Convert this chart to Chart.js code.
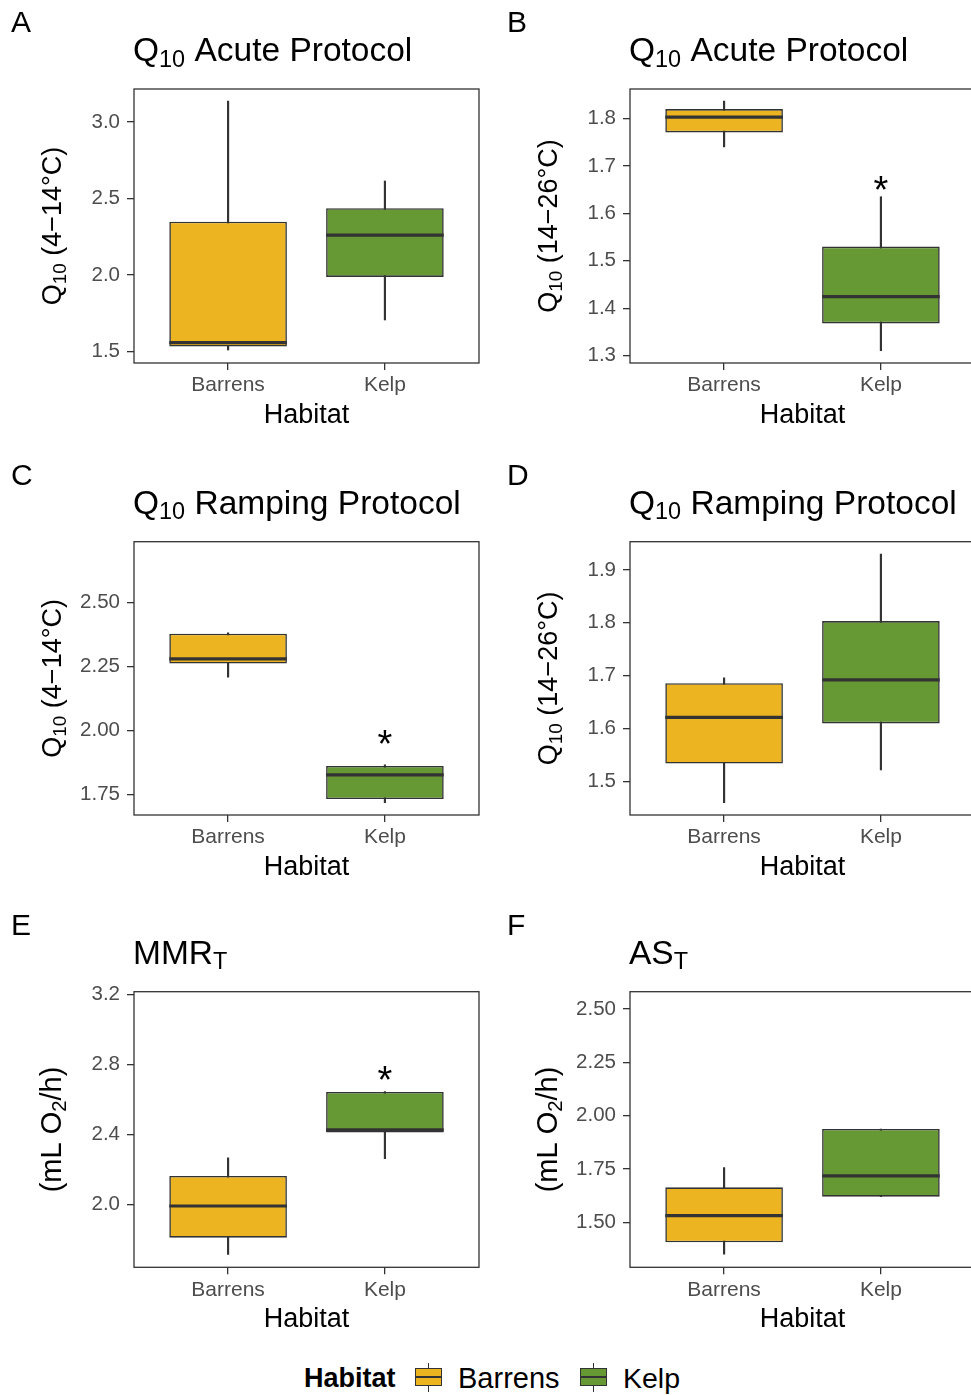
<!DOCTYPE html>
<html>
<head>
<meta charset="utf-8">
<script src="https://cdn.jsdelivr.net/npm/chart.js@4.4.1/dist/chart.umd.min.js"></script>
<style>
html,body{margin:0;padding:0;width:971px;height:1395px;overflow:hidden;background:#ffffff;}
.panel{position:absolute;}
.panel canvas{display:block;}
.lg{position:absolute;font-family:'Liberation Sans',Arial,sans-serif;line-height:1;white-space:nowrap;color:#000;}
.key{position:absolute;}
.key .w{position:absolute;left:13px;width:1.4px;top:0;height:29px;background:#333;}
.key .b{position:absolute;left:0;top:5px;width:27px;height:18px;box-sizing:border-box;border:1.5px solid #333;}
.key .m{position:absolute;left:0;width:27px;top:12.8px;height:2.6px;background:#333;}
</style>
</head>
<body>
<div class="panel" style="left:0;top:0;"><canvas id="cA" width="490" height="450"></canvas></div>
<div class="panel" style="left:490px;top:0;"><canvas id="cB" width="500" height="450"></canvas></div>
<div class="panel" style="left:0;top:450px;"><canvas id="cC" width="490" height="450"></canvas></div>
<div class="panel" style="left:490px;top:450px;"><canvas id="cD" width="500" height="450"></canvas></div>
<div class="panel" style="left:0;top:900px;"><canvas id="cE" width="490" height="450"></canvas></div>
<div class="panel" style="left:490px;top:900px;"><canvas id="cF" width="500" height="450"></canvas></div>

<div class="lg" style="left:304px;top:1365px;font-size:27px;font-weight:bold;">Habitat</div>
<div class="key" style="left:415px;top:1363px;width:27px;height:29px;">
  <div class="w"></div><div class="b" style="background:#EDB422"></div><div class="m"></div>
</div>
<div class="lg" style="left:458px;top:1363.5px;font-size:29px;">Barrens</div>
<div class="key" style="left:580px;top:1363px;width:27px;height:29px;">
  <div class="w"></div><div class="b" style="background:#669933"></div><div class="m"></div>
</div>
<div class="lg" style="left:623px;top:1363.5px;font-size:28.5px;">Kelp</div>

<script>
// ---------------- DATA ----------------
const categories = ['Barrens', 'Kelp'];
const fillColors = ['#EDB422', '#669933'];

// Panel A: Q10 acute protocol, 4-14 C
const aWhiskerLow  = [1.511, 1.707];
const aQ1          = [1.533, 1.988];
const aMedian      = [1.559, 2.262];
const aQ3          = [2.349, 2.437];
const aWhiskerHigh = [3.137, 2.615];
const aSignif      = [null, null];
const aTicks       = [1.5, 2.0, 2.5, 3.0];
const aTickLabels  = ['1.5', '2.0', '2.5', '3.0'];
const aLimits      = [1.426, 3.216];

// Panel B: Q10 acute protocol, 14-26 C
const bWhiskerLow  = [1.740, 1.3105];
const bQ1          = [1.7705, 1.368];
const bMedian      = [1.8027, 1.4245];
const bQ3          = [1.8196, 1.530];
const bWhiskerHigh = [1.8365, 1.635];
const bSignif      = [null, 1.6665];
const bTicks       = [1.3, 1.4, 1.5, 1.6, 1.7, 1.8];
const bTickLabels  = ['1.3', '1.4', '1.5', '1.6', '1.7', '1.8'];
const bLimits      = [1.2846, 1.862];

// Panel C: Q10 ramping protocol, 4-14 C
const cWhiskerLow  = [2.2088, 1.717];
const cQ1          = [2.262, 1.7314];
const cMedian      = [2.2801, 1.826];
const cQ3          = [2.3787, 1.861];
const cWhiskerHigh = [2.382, 1.865];
const cSignif      = [null, 1.980];
const cTicks       = [1.75, 2.00, 2.25, 2.50];
const cTickLabels  = ['1.75', '2.00', '2.25', '2.50'];
const cLimits      = [1.669, 2.7387];

// Panel D: Q10 ramping protocol, 14-26 C
const dWhiskerLow  = [1.4595, 1.5214];
const dQ1          = [1.5333, 1.6095];
const dMedian      = [1.6208, 1.6919];
const dQ3          = [1.6857, 1.8032];
const dWhiskerHigh = [1.696, 1.9303];
const dSignif      = [null, null];
const dTicks       = [1.5, 1.6, 1.7, 1.8, 1.9];
const dTickLabels  = ['1.5', '1.6', '1.7', '1.8', '1.9'];
const dLimits      = [1.436, 1.9536];

// Panel E: MMR_T (mL O2/h)
const eWhiskerLow  = [1.717, 2.262];
const eQ1          = [1.812, 2.412];
const eMedian      = [1.9926, 2.427];
const eQ3          = [2.164, 2.643];
const eWhiskerHigh = [2.268, 2.6446];
const eSignif      = [null, 2.7587];
const eTicks       = [2.0, 2.4, 2.8, 3.2];
const eTickLabels  = ['2.0', '2.4', '2.8', '3.2'];
const eLimits      = [1.643, 3.215];

// Panel F: AS_T (mL O2/h)
const fWhiskerLow  = [1.350, 1.62];
const fQ1          = [1.406, 1.62];
const fMedian      = [1.531, 1.7173];
const fQ3          = [1.664, 1.9375];
const fWhiskerHigh = [1.756, 1.9375];
const fSignif      = [null, null];
const fTicks       = [1.50, 1.75, 2.00, 2.25, 2.50];
const fTickLabels  = ['1.50', '1.75', '2.00', '2.25', '2.50'];
const fLimits      = [1.289, 2.581];

// Text
const titleAcute   = [{t: 'Q'}, {t: '10', sub: true}, {t: ' Acute Protocol'}];
const titleRamping = [{t: 'Q'}, {t: '10', sub: true}, {t: ' Ramping Protocol'}];
const titleMMR     = [{t: 'MMR'}, {t: 'T', sub: true}];
const titleAS      = [{t: 'AS'}, {t: 'T', sub: true}];
const yTitleLow    = [{t: 'Q'}, {t: '10', sub: true}, {t: ' (4\u221214\u00B0C)'}];
const yTitleHigh   = [{t: 'Q'}, {t: '10', sub: true}, {t: ' (14\u221226\u00B0C)'}];
const yTitleRate   = [{t: '(mL O'}, {t: '2', sub: true}, {t: '/h)'}];
const xTitle = 'Habitat';

// ---------------- RENDERING ----------------
const FONT = "'Liberation Sans', Arial, Helvetica, sans-serif";
Chart.defaults.font.family = FONT;

function drawRich(ctx, segs, x, y, size, align) {
  let total = 0;
  const parts = segs.map(s => {
    const fs = s.sub ? size * 0.7 : size;
    ctx.font = fs + 'px ' + FONT;
    const w = ctx.measureText(s.t).width;
    total += w;
    return {t: s.t, fs: fs, w: w, dy: s.sub ? size * 0.17 : 0};
  });
  let cx = align === 'center' ? x - total / 2 : x;
  ctx.textAlign = 'left';
  ctx.textBaseline = 'alphabetic';
  for (const p of parts) {
    ctx.font = p.fs + 'px ' + FONT;
    ctx.fillText(p.t, cx, y + p.dy);
    cx += p.w;
  }
}

function makePlugin(p) {
  return {
    id: 'boxExtras',
    afterDatasetsDraw(chart) {
      const ctx = chart.ctx;
      const ca = chart.chartArea;
      const ys = chart.scales.y;
      const xs = chart.scales.x;
      ctx.save();
      // medians, drawn across each box element
      const meta = chart.getDatasetMeta(1);
      ctx.strokeStyle = '#333333';
      ctx.lineWidth = 3.2;
      meta.data.forEach((bar, i) => {
        const y = ys.getPixelForValue(p.median[i]);
        ctx.beginPath();
        ctx.moveTo(bar.x - bar.width / 2, y);
        ctx.lineTo(bar.x + bar.width / 2, y);
        ctx.stroke();
      });
      // significance marks
      ctx.fillStyle = '#000';
      ctx.font = '38px ' + FONT;
      ctx.textAlign = 'center';
      ctx.textBaseline = 'alphabetic';
      p.signif.forEach((v, i) => {
        if (v === null) return;
        const x = xs.getPixelForValue(i + 1);
        const y = ys.getPixelForValue(v);
        ctx.fillText('*', x, y + 38 * 0.56);
      });
      // panel border
      ctx.strokeStyle = '#333333';
      ctx.lineWidth = 1.3;
      ctx.strokeRect(ca.left, ca.top, ca.right - ca.left, ca.bottom - ca.top);
      ctx.restore();
    },
    afterDraw(chart) {
      const ctx = chart.ctx;
      const ca = chart.chartArea;
      ctx.save();
      ctx.fillStyle = '#000';
      // panel letter
      ctx.font = '30px ' + FONT;
      ctx.textAlign = 'left';
      ctx.textBaseline = 'alphabetic';
      ctx.fillText(p.letter, p.letterX, ca.top - 57);
      // title
      drawRich(ctx, p.title, ca.left - 1, ca.top - 28, 33.5, 'left');
      // x title
      ctx.font = '27px ' + FONT;
      ctx.textAlign = 'center';
      ctx.fillText(xTitle, (ca.left + ca.right) / 2, ca.bottom + 59.5);
      // y title (rotated)
      ctx.translate(ca.left - 73, (ca.top + ca.bottom) / 2);
      ctx.rotate(-Math.PI / 2);
      drawRich(ctx, p.yTitle, 0, 0, p.yTitleSize, 'center');
      ctx.restore();
    }
  };
}

function makeChart(p) {
  const boxData = categories.map((c, i) => ({x: i + 1, y: [p.q1[i], p.q3[i]]}));
  const whiskerData = categories.map((c, i) => ({x: i + 1, y: [p.low[i], p.high[i]]}));
  return new Chart(document.getElementById(p.canvas), {
    type: 'bar',
    data: {
      datasets: [
        {
          label: 'whisker', data: whiskerData,
          backgroundColor: '#333333', borderWidth: 0,
          barThickness: 1.5, grouped: false, order: 2
        },
        {
          label: 'box', data: boxData,
          backgroundColor: fillColors, borderColor: '#333333', borderWidth: 1.6,
          borderSkipped: false, grouped: false,
          categoryPercentage: 1, barPercentage: 0.75, order: 1
        }
      ]
    },
    options: {
      responsive: false,
      animation: false,
      events: [],
      layout: {padding: {top: p.padTop, right: p.padRight, left: 0, bottom: 0}},
      plugins: {legend: {display: false}, tooltip: {enabled: false}, title: {display: false}},
      scales: {
        x: {
          type: 'linear', min: 0.4, max: 2.6, offset: false,
          afterBuildTicks: a => { a.ticks = categories.map((c, i) => ({value: i + 1})); },
          afterFit: a => { a.height = p.xHeight; },
          ticks: {
            callback: v => categories[Math.round(v) - 1],
            font: {size: 21}, color: '#4D4D4D', padding: 3,
            autoSkip: false, maxRotation: 0, minRotation: 0
          },
          grid: {display: true, offset: false, drawOnChartArea: false, drawTicks: true, tickLength: 7, color: '#333333', lineWidth: 1.3},
          border: {display: false}
        },
        y: {
          type: 'linear', min: p.limits[0], max: p.limits[1],
          afterBuildTicks: a => { a.ticks = p.ticks.map(v => ({value: v})); },
          afterFit: a => { a.width = p.yWidth; },
          ticks: {
            callback: (v, i) => p.tickLabels[i],
            font: {size: 20.5}, color: '#4D4D4D', padding: 7, autoSkip: false
          },
          grid: {display: true, offset: false, drawOnChartArea: false, drawTicks: true, tickLength: 7, color: '#333333', lineWidth: 1.3},
          border: {display: false}
        }
      }
    },
    plugins: [makePlugin(p)]
  });
}

const leftCol = {yWidth: 134, padRight: 11, letterX: 11};
const rightCol = {yWidth: 140, padRight: 15, letterX: 17};
const row1 = {padTop: 89, xHeight: 87};
const row2 = {padTop: 91.7, xHeight: 85};
const row3 = {padTop: 91.7, xHeight: 82.7};

const panels = [
  Object.assign({canvas: 'cA', letter: 'A', title: titleAcute, yTitle: yTitleLow, yTitleSize: 27,
    low: aWhiskerLow, q1: aQ1, median: aMedian, q3: aQ3, high: aWhiskerHigh, signif: aSignif,
    ticks: aTicks, tickLabels: aTickLabels, limits: aLimits}, leftCol, row1),
  Object.assign({canvas: 'cB', letter: 'B', title: titleAcute, yTitle: yTitleHigh, yTitleSize: 27,
    low: bWhiskerLow, q1: bQ1, median: bMedian, q3: bQ3, high: bWhiskerHigh, signif: bSignif,
    ticks: bTicks, tickLabels: bTickLabels, limits: bLimits}, rightCol, row1),
  Object.assign({canvas: 'cC', letter: 'C', title: titleRamping, yTitle: yTitleLow, yTitleSize: 27,
    low: cWhiskerLow, q1: cQ1, median: cMedian, q3: cQ3, high: cWhiskerHigh, signif: cSignif,
    ticks: cTicks, tickLabels: cTickLabels, limits: cLimits}, leftCol, row2),
  Object.assign({canvas: 'cD', letter: 'D', title: titleRamping, yTitle: yTitleHigh, yTitleSize: 27,
    low: dWhiskerLow, q1: dQ1, median: dMedian, q3: dQ3, high: dWhiskerHigh, signif: dSignif,
    ticks: dTicks, tickLabels: dTickLabels, limits: dLimits}, rightCol, row2),
  Object.assign({canvas: 'cE', letter: 'E', title: titleMMR, yTitle: yTitleRate, yTitleSize: 29,
    low: eWhiskerLow, q1: eQ1, median: eMedian, q3: eQ3, high: eWhiskerHigh, signif: eSignif,
    ticks: eTicks, tickLabels: eTickLabels, limits: eLimits}, leftCol, row3),
  Object.assign({canvas: 'cF', letter: 'F', title: titleAS, yTitle: yTitleRate, yTitleSize: 29,
    low: fWhiskerLow, q1: fQ1, median: fMedian, q3: fQ3, high: fWhiskerHigh, signif: fSignif,
    ticks: fTicks, tickLabels: fTickLabels, limits: fLimits}, rightCol, row3)
];

panels.forEach(makeChart);
</script>
</body>
</html>
